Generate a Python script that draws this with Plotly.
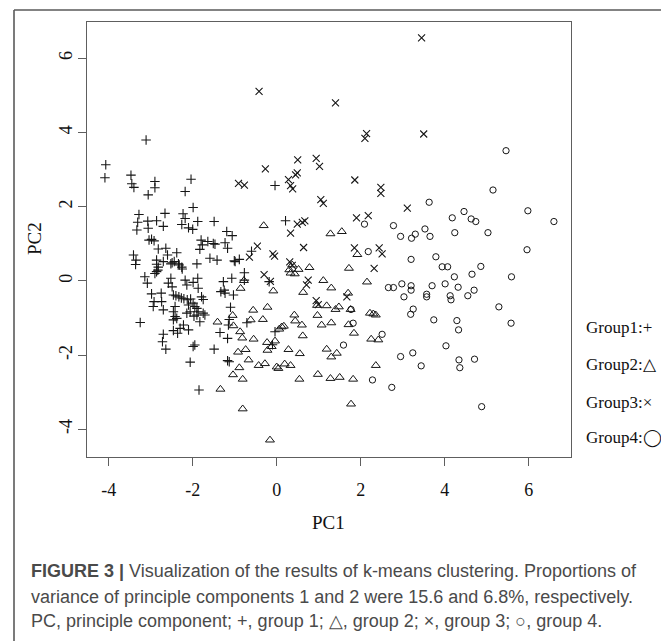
import plotly.graph_objects as go

# ---------------- data (PC1, PC2) ----------------
group1_points = [
    (-4.07, 3.13), (-4.09, 2.78), (-3.11, 3.80), (-3.47, 2.85), (-3.45, 2.62), (-3.40, 2.52),
    (-2.90, 2.68), (-2.90, 2.51), (-3.06, 2.32), (-2.04, 2.74), (-2.18, 2.41), (-1.99, 1.98),
    (-0.04, 2.57), (0.21, 1.62), (-3.28, 1.79), (-3.31, 1.58), (-3.33, 1.37), (-2.66, 1.82),
    (-3.07, 1.61), (-3.06, 1.42), (-2.86, 1.62), (-2.70, 1.47), (-2.23, 1.81), (-2.26, 1.52),
    (-2.18, 1.68), (-2.10, 1.43), (-2.00, 1.39), (-1.88, 1.60), (-1.49, 1.60), (-1.19, 1.33),
    (-1.06, 1.22), (-3.04, 1.10), (-2.98, 1.12), (-2.92, 1.08), (-2.82, 0.86), (-2.64, 0.88),
    (-2.60, 0.70), (-2.38, 0.76), (-2.44, 0.52), (-2.32, 0.43), (-2.25, 0.32), (-3.41, 0.70),
    (-3.35, 0.56), (-3.36, 0.44), (-2.86, 0.56), (-2.86, 0.45), (-2.83, 0.29), (-2.90, 0.20),
    (-2.82, 0.37), (-2.86, 0.25), (-2.70, 0.52), (-2.52, 0.46), (-1.90, 0.46), (-2.49, 0.49),
    (-2.34, 0.46), (-2.26, 0.37), (-1.80, 1.10), (-1.77, 0.97), (-1.83, 0.85), (-1.64, 1.06),
    (-1.51, 1.01), (-1.47, 0.99), (-1.23, 1.03), (-1.17, 0.88), (-1.59, 0.61), (-1.42, 0.56),
    (-1.01, 0.54), (-0.89, 0.58), (-3.14, 0.11), (-3.08, -0.06), (-2.52, 0.07), (-2.58, -0.06),
    (-2.49, -0.16), (-2.18, 0.02), (-2.14, -0.11), (-1.99, -0.04), (-1.88, 0.07), (-1.87, -0.20),
    (-1.27, -0.02), (-1.25, -0.25), (-1.07, 0.07), (-1.03, -0.38), (-0.77, 0.22), (-0.77, 0.02),
    (-0.18, -0.02), (-1.33, -0.29), (-1.23, -0.33), (-2.98, -0.35), (-2.92, -0.56), (-2.94, -0.69),
    (-2.75, -0.33), (-2.74, -0.56), (-2.70, -0.78), (-2.46, -0.38), (-2.40, -0.40), (-2.33, -0.43),
    (-2.27, -0.46), (-2.21, -0.48), (-2.13, -0.51), (-2.05, -0.49), (-2.10, -0.65), (-1.99, -0.60),
    (-1.90, -0.74), (-1.87, -0.83), (-1.95, -0.69), (-1.75, -0.50), (-1.79, -0.43), (-1.75, -0.87),
    (-1.90, -0.92), (-1.71, -0.92), (-1.83, -1.10), (-2.42, -0.69), (-2.46, -0.83), (-2.42, -0.96),
    (-2.46, -1.05), (-2.38, -1.01), (-2.14, -0.87), (-2.06, -0.83), (-1.97, -0.95), (-3.25, -1.12),
    (-2.30, -1.28), (-2.10, -1.32), (-2.46, -1.34), (-2.22, -1.19), (-2.36, -1.41), (-2.70, -1.44),
    (-2.72, -1.64), (-2.64, -1.84), (-1.99, -1.77), (-1.95, -1.73), (-2.06, -2.19), (-1.85, -2.94),
    (-1.49, -1.84), (-1.17, -2.15), (-1.13, -2.18), (-1.17, -1.55), (-1.35, -1.39), (-1.15, -1.19),
    (-1.13, -1.04), (-0.71, -1.13), (-0.04, -1.37), (-1.10, -0.71), (-0.99, 0.52), (-0.60, 0.80),
    (-0.10, -1.72),
]

group2_points = [
    (-0.31, 1.49), (1.28, 1.27), (1.55, 1.33), (1.92, 0.71), (0.37, 0.43), (0.33, 0.21),
    (0.43, 0.19), (0.52, 0.31), (0.78, 0.36), (0.30, 0.30), (1.72, 0.34), (2.15, -0.03),
    (-0.78, 0.01), (-0.86, -0.20), (-0.08, -0.27), (0.63, -0.31), (1.11, 0.01), (1.30, -0.19),
    (1.70, -0.33), (1.40, -0.77), (1.48, -0.70), (1.76, -0.77), (2.22, -0.87), (2.30, -0.89),
    (2.36, -0.92), (0.96, -0.66), (0.97, -0.93), (1.07, -1.19), (1.19, -0.67), (1.30, -1.13),
    (1.71, -1.18), (1.84, -1.41), (2.25, -1.57), (2.42, -1.59), (1.19, -1.84), (1.30, -2.05),
    (1.43, -1.95), (2.36, -2.28), (0.98, -2.52), (1.28, -2.63), (1.50, -2.60), (1.82, -2.65),
    (1.77, -3.32), (-1.41, -1.11), (-1.05, -0.93), (-1.03, -1.21), (-0.87, -1.37), (-0.82, -1.54),
    (-0.56, -0.79), (-0.22, -0.71), (-0.62, -1.05), (-0.33, -1.04), (-0.55, -1.57), (-0.92, -1.92),
    (-0.74, -1.85), (-0.67, -2.13), (-0.89, -2.34), (-1.04, -2.53), (-0.81, -2.65), (-1.34, -2.92),
    (-0.81, -3.45), (-0.16, -4.29), (-0.43, -2.28), (-0.28, -2.23), (-0.23, -1.66), (-0.22, -1.87),
    (-0.12, -1.77), (-0.04, -1.62), (0.00, -2.32), (0.04, -2.36), (0.19, -2.24), (0.33, -2.28),
    (0.28, -1.85), (0.55, -1.96), (0.54, -2.65), (0.62, -1.48), (0.42, -0.92), (0.44, -1.08),
    (0.60, -1.19), (0.06, -1.30), (0.12, -1.24), (0.17, -1.22),
]

group3_points = [
    (3.45, 6.55), (-0.42, 5.11), (1.40, 4.80), (2.14, 3.97), (2.10, 3.84), (3.50, 3.96),
    (0.94, 3.30), (1.02, 3.09), (0.50, 3.26), (0.49, 2.91), (0.45, 2.86), (-0.27, 3.02),
    (0.28, 2.73), (0.33, 2.57), (0.38, 2.48), (-0.91, 2.63), (-0.77, 2.58), (1.86, 2.72),
    (2.48, 2.52), (2.48, 2.36), (1.05, 2.19), (1.11, 2.09), (3.11, 1.96), (1.90, 1.70),
    (2.18, 1.76), (0.49, 1.53), (0.61, 1.58), (0.67, 1.62), (0.33, 1.29), (0.64, 0.90),
    (-0.46, 0.94), (-0.65, 0.64), (-0.09, 0.73), (-0.05, 0.67), (1.85, 0.89), (2.44, 0.89),
    (2.51, 0.73), (0.31, 0.51), (0.37, 0.42), (2.32, 0.34), (-0.30, 0.17), (-0.15, -0.01),
    (0.75, 0.02), (0.71, -0.11), (0.94, -0.53), (0.99, -0.64), (1.67, -0.43),
]

group4_points = [
    (5.46, 3.51), (5.15, 2.45), (3.63, 2.12), (5.98, 1.89), (2.09, 1.53), (2.78, 1.49),
    (4.18, 1.70), (4.46, 1.87), (4.63, 1.67), (4.74, 1.60), (6.60, 1.60), (2.95, 1.20),
    (3.21, 1.15), (3.30, 1.26), (3.53, 1.40), (3.65, 1.20), (4.24, 1.30), (5.03, 1.30),
    (5.96, 0.84), (2.18, 0.79), (3.20, 0.58), (3.79, 0.65), (3.94, 0.38), (4.07, 0.38),
    (4.86, 0.39), (4.65, 0.18), (4.23, 0.11), (5.59, 0.11), (2.66, -0.18), (2.78, -0.18),
    (2.98, -0.08), (3.20, -0.13), (3.20, -0.25), (3.03, -0.43), (3.70, -0.13), (4.01, -0.08),
    (4.32, -0.17), (4.70, -0.25), (4.55, -0.40), (3.57, -0.36), (3.57, -0.43), (4.13, -0.40),
    (4.15, -0.51), (5.29, -0.70), (3.19, -0.90), (3.25, -0.76), (3.74, -1.05), (4.29, -1.07),
    (4.33, -1.32), (5.58, -1.14), (1.82, -1.14), (2.51, -1.44), (1.59, -1.73), (4.03, -1.75),
    (3.24, -1.94), (2.95, -2.04), (3.44, -2.29), (4.34, -2.13), (4.36, -2.34), (4.71, -2.11),
    (2.28, -2.67), (2.74, -2.87), (4.88, -3.39), (1.77, -0.77),
]

x_ticks = [-4, -2, 0, 2, 4, 6]
y_ticks = [-4, -2, 0, 2, 4, 6]
legend_labels = ["Group1:+", "Group2:\u25B3", "Group3:\u00D7", "Group4:\u25EF"]
caption_lines = [
    "<b>FIGURE 3 |</b> <span style='color:#4a4a4a'>Visualization of the results of k-means clustering. Proportions of</span>",
    "variance of principle components 1 and 2 were 15.6 and 6.8%, respectively.",
    "PC, principle component; +, group 1; \u25B3, group 2; \u00D7, group 3; \u25CB, group 4.",
]

# ---------------- figure ----------------
# the page adds an 8px body margin, so the figure is drawn 8px smaller
# and every position below is given in page pixels, shifted by that margin
PAGE_W, PAGE_H = 669, 641
OFF = 8
W, H = PAGE_W - OFF, PAGE_H - OFF


def px(x):
    return (x - OFF) / W


def py(y):
    return 1 - (y - OFF) / H


INK = "#161616"
fig = go.Figure()


def add_group(points, symbol, size, lw):
    xs = [p[0] for p in points]
    ys = [p[1] for p in points]
    fig.add_trace(go.Scatter(
        x=xs, y=ys, mode="markers", showlegend=False, hoverinfo="skip",
        marker=dict(symbol=symbol, size=size, color=INK,
                    line=dict(width=lw, color=INK)),
    ))


add_group(group1_points, "cross-thin", 6.8, 1.1)
add_group(group2_points, "triangle-up-open", 7.8, 1.0)
add_group(group3_points, "x-thin", 7.0, 1.1)
add_group(group4_points, "circle-open", 6.3, 1.0)

SERIF = "Liberation Serif, Times New Roman, serif"
SANS = "Liberation Sans, Arial, sans-serif"
BOX = "#5e5e5e"

axis_common = dict(
    showgrid=False, zeroline=False, showline=True, mirror=True,
    linecolor=BOX, linewidth=1.3, ticks="outside", ticklen=8,
    tickwidth=1.2, tickcolor=BOX, fixedrange=True,
    tickfont=dict(family=SERIF, size=18, color="#111111"),
)

fig.update_layout(
    width=W, height=H, autosize=False,
    margin=dict(l=0, r=0, t=0, b=0),
    paper_bgcolor="white", plot_bgcolor="white",
    xaxis=dict(domain=[px(86.7), px(570.7)], range=[-4.524, 7.0],
               tickmode="array", tickvals=x_ticks,
               ticktext=[str(v) for v in x_ticks],
               ticklabelstandoff=9, **axis_common),
    yaxis=dict(domain=[py(456.7), py(21.7)], range=[-4.739, 6.987],
               tickmode="array", tickvals=y_ticks,
               ticktext=[str(v) for v in y_ticks],
               tickangle=-90, ticklabelstandoff=-2, **axis_common),
)

annotations = []
# axis titles
annotations.append(dict(text="PC1", x=px(328.7), y=py(522), xref="paper", yref="paper",
                        xanchor="center", yanchor="middle", showarrow=False,
                        font=dict(family=SERIF, size=19, color="#111111")))
annotations.append(dict(text="PC2", x=px(34), y=py(239), xref="paper", yref="paper",
                        xanchor="center", yanchor="middle", showarrow=False, textangle=-90,
                        font=dict(family=SERIF, size=19, color="#111111")))
# legend text
for lab, yc in zip(legend_labels, [327, 364, 402, 437.5]):
    annotations.append(dict(text=lab, x=px(583.5), y=py(yc), xref="paper", yref="paper",
                            xanchor="left", yanchor="middle", showarrow=False,
                            font=dict(family=SERIF, size=17, color="#111111")))
# caption
for line, yc in zip(caption_lines, [571, 597, 621]):
    annotations.append(dict(text=line, x=px(29), y=py(yc), xref="paper", yref="paper",
                            xanchor="left", yanchor="middle", showarrow=False, align="left",
                            font=dict(family=SANS, size=18, color="#4a4a4a")))
fig.update_layout(annotations=annotations)

# outer frame drawn as separate edges (its bottom edge lies below the page)
FRAME = dict(color="#5a5a5a", width=1.6)
fig.add_shape(type="line", xref="paper", yref="paper",
              x0=px(14), x1=px(665.5), y0=py(10), y1=py(10), line=FRAME, layer="above")
fig.add_shape(type="line", xref="paper", yref="paper",
              x0=px(14), x1=px(14), y0=py(10), y1=py(660), line=FRAME, layer="above")
fig.add_shape(type="line", xref="paper", yref="paper",
              x0=px(665.5), x1=px(665.5), y0=py(10), y1=py(660), line=FRAME, layer="above")

fig.write_html("out.html")
